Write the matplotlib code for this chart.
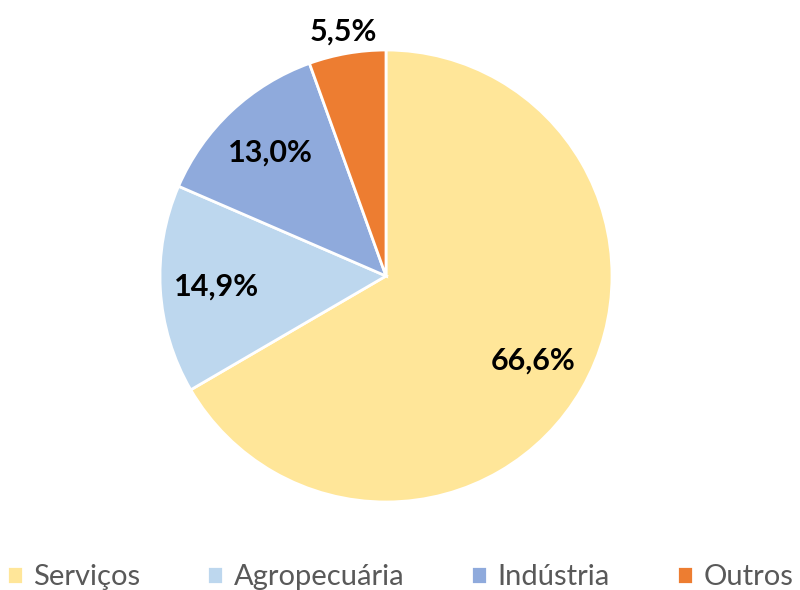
import matplotlib
matplotlib.use("Agg")
import matplotlib.pyplot as plt
import numpy as np

sectors = ["Serviços", "Agropecuária", "Indústria", "Outros"]
shares = [66.6, 14.9, 13.0, 5.5]
labels = ["66,6%", "14,9%", "13,0%", "5,5%"]
colors = ["#FFE699", "#BDD7EE", "#8FAADC", "#ED7D31"]

plt.rcParams["font.family"] = ["Lato", "DejaVu Sans"]

fig = plt.figure(figsize=(8, 5.9), dpi=100)
# pie centre ~ (386, 276) px, radius ~ 226 px
ax = fig.add_axes([(386 - 226) / 800, (590 - 502) / 590, 452 / 800, 452 / 590])

wedges, _ = ax.pie(shares, colors=colors, startangle=90, counterclock=False,
                   radius=1, wedgeprops=dict(edgecolor="white", linewidth=2))
ax.set_xlim(-1, 1)
ax.set_ylim(-1, 1)

for w, lab, s in zip(wedges, labels, shares):
    mid = np.deg2rad((w.theta1 + w.theta2) / 2)
    r = 1.1 if s < 8 else 0.75
    ax.text(r * np.cos(mid), r * np.sin(mid), lab, ha="center", va="center",
            fontsize=22, fontweight="bold", color="black", clip_on=False)

fig.legend(wedges, sectors, loc="lower center", bbox_to_anchor=(0.5, -0.045),
           ncol=4, frameon=False, fontsize=21, labelcolor="#595959",
           handlelength=0.55, handleheight=0.55, handletextpad=0.35, columnspacing=2.3)

fig.savefig("out.png", dpi=100)
